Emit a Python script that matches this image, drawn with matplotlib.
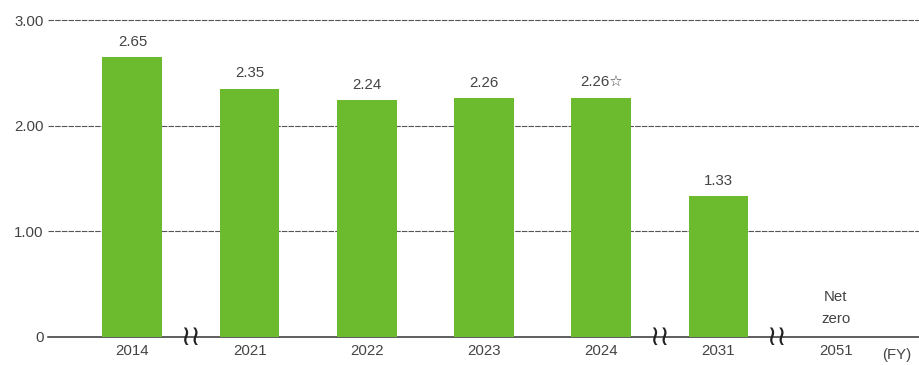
import matplotlib
matplotlib.use("Agg")
import matplotlib.pyplot as plt

plt.rcParams.update({
    "font.family": ["Liberation Sans", "DejaVu Sans"],
    "font.size": 10.8,
    "text.color": "#444444",
    "xtick.color": "#444444",
    "ytick.color": "#444444",
})

GREEN, GRID = "#6cba2e", "#555555"

years = ["2014", "2021", "2022", "2023", "2024", "2031", "2051"]
values = [2.65, 2.35, 2.24, 2.26, 2.26, 1.33, None]
value_labels = ["2.65", "2.35", "2.24", "2.26", "2.26\u2606", "1.33", "Net\nzero"]
yticks = [0, 1.0, 2.0, 3.0]
ytick_labels = ["0", "1.00", "2.00", "3.00"]
breaks_after = [0, 4, 5]   # axis break marks between these bars and the next

fig = plt.figure(figsize=(9.2, 3.65), dpi=100)
ax = fig.add_axes([48 / 920, 28 / 365, 872 / 920, 317 / 365])

xs = list(range(len(years)))
for x, v in zip(xs, values):
    if v is not None:
        ax.bar(x, v, width=0.51, color=GREEN, zorder=3)

for x, v, lab in zip(xs, values, value_labels):
    if v is None:
        ax.text(x, 0.1, lab, ha="center", va="bottom", linespacing=1.75, zorder=4)
    else:
        ax.text(x, v + 0.08, lab, ha="center", va="bottom", zorder=4)

ax.set_xlim(-0.72, 6.72)
ax.set_ylim(0, 3.0)
ax.set_yticks(yticks)
ax.set_yticklabels(ytick_labels)
ax.set_xticks(xs)
ax.set_xticklabels(years)
ax.tick_params(axis="y", length=0, pad=3)
ax.tick_params(axis="x", length=0, pad=5)

for t in yticks[1:]:
    ax.axhline(t, color=GRID, lw=0.8, ls=(0, (5, 1)), zorder=1, clip_on=False)
ax.axhline(0, color="#333333", lw=1.1, zorder=2, clip_on=False)

for s in ax.spines.values():
    s.set_visible(False)

for b in breaks_after:
    ax.text(b + 0.5, 0, "\u2240\u2240", ha="center", va="center", fontsize=20,
            family="DejaVu Sans", color="#222222", zorder=5)

ax.text(6.52, -0.17, "(FY)", ha="center", va="center")

fig.savefig("out.png", dpi=100)
